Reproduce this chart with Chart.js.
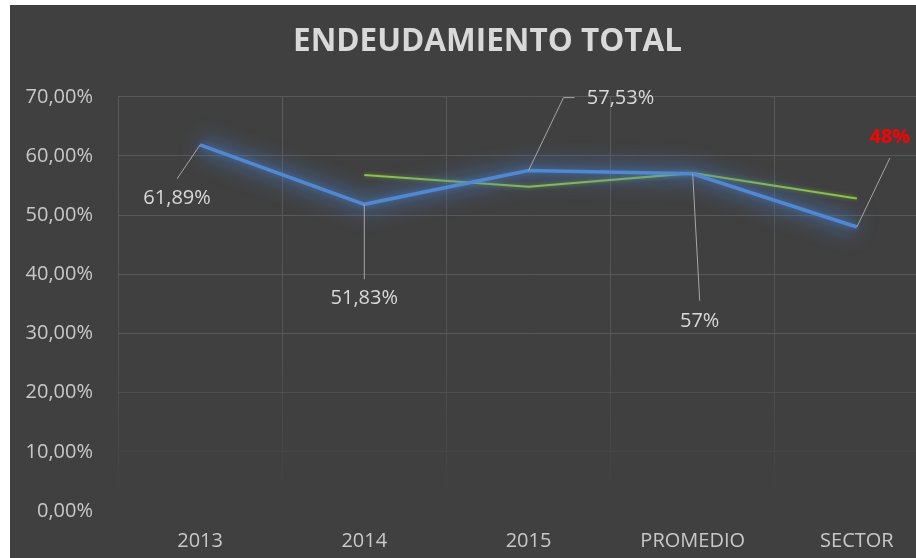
<!DOCTYPE html>
<html>
<head>
<meta charset="utf-8">
<script src="https://cdn.jsdelivr.net/npm/chart.js@4/dist/chart.umd.min.js"></script>
<style>
  html, body { margin: 0; padding: 0; background: #ffffff; overflow: hidden; }
  #wrap { position: absolute; left: 10px; top: 5px; width: 955px; height: 553px; background: #404040; }
</style>
</head>
<body>
<div id="wrap"><canvas id="chart"></canvas></div>
<script>
const categories = ['2013', '2014', '2015', 'PROMEDIO', 'SECTOR'];
const empresa = [61.89, 51.83, 57.53, 57, 48];
const referencia = [null, 56.8, 54.8, 57.1, 52.8];
const labelDecimals = [2, 2, 2, 0, 0];
const yTicks = [0, 10, 20, 30, 40, 50, 60, 70];

// where each data label sits, relative to its point (px)
const labelLayout = [
    {dx: -23, dy: 54, lx: -23, ly: 34},
    {dx: 0, dy: 94, lx: 0, ly: 75},
    {dx: 92, dy: -72, lx: 35, ly: -73, elbow: 46},
    {dx: 7, dy: 148, lx: 7, ly: 127},
    {dx: 33, dy: -90, lx: 33, ly: -69, color: '#ff0000', bold: true}
];

function pct(v, d){
    return v.toFixed(d).replace('.', ',') + '%';
}

const glowPlugin = {
    id: 'glow',
    beforeDatasetDraw(chart, args){
        const ctx = chart.ctx;
        if (args.index === 0) {
            // soft halo under the main line
            const pts = args.meta.data.filter(p => !p.skip);
            ctx.save();
            ctx.filter = 'blur(9px)';
            ctx.strokeStyle = 'rgba(70,120,190,0.4)';
            ctx.lineWidth = 22;
            ctx.lineJoin = 'round';
            ctx.beginPath();
            pts.forEach((p, i) => i ? ctx.lineTo(p.x, p.y) : ctx.moveTo(p.x, p.y));
            ctx.stroke();
            ctx.restore();
        }
        ctx.save();
        if (args.index === 0) {
            ctx.shadowColor = 'rgba(79,136,214,0.5)';
            ctx.shadowBlur = 6;
        } else {
            ctx.shadowColor = 'rgba(146,208,80,0.5)';
            ctx.shadowBlur = 4;
        }
    },
    afterDatasetDraw(chart){
        chart.ctx.restore();
    }
};

const labelPlugin = {
    id: 'leaderLabels',
    afterDatasetsDraw(chart){
        const ctx = chart.ctx;
        const pts = chart.getDatasetMeta(0).data;
        ctx.save();
        pts.forEach((p, i) => {
            const lay = labelLayout[i];
            ctx.strokeStyle = '#a6a6a6';
            ctx.lineWidth = 1;
            ctx.beginPath();
            ctx.moveTo(p.x, p.y);
            ctx.lineTo(p.x + lay.lx, p.y + lay.ly);
            if (lay.elbow) ctx.lineTo(p.x + lay.elbow, p.y + lay.ly);
            ctx.stroke();
            ctx.fillStyle = lay.color || '#d9d9d9';
            ctx.font = (lay.bold ? 'bold ' : '') + '20px "Open Sans"';
            ctx.textAlign = 'center';
            ctx.textBaseline = 'middle';
            ctx.fillText(pct(empresa[i], labelDecimals[i]), p.x + lay.dx, p.y + lay.dy);
        });
        ctx.restore();
    }
};

const chart = new Chart(document.getElementById('chart'), {
    type: 'line',
    data: {
        labels: categories,
        datasets: [{
            label: 'Endeudamiento',
            data: empresa,
            borderColor: '#4f88d6',
            borderWidth: 3.5,
            pointRadius: 0,
            tension: 0
        }, {
            label: 'Referencia',
            data: referencia,
            borderColor: '#8cc63f',
            borderWidth: 2,
            pointRadius: 0,
            tension: 0
        }]
    },
    options: {
        responsive: true,
        maintainAspectRatio: false,
        animation: false,
        layout: {padding: 0},
        plugins: {
            legend: {display: false},
            tooltip: {enabled: false},
            title: {
                display: true,
                text: 'ENDEUDAMIENTO TOTAL',
                color: '#d9d9d9',
                font: {family: '"Open Sans"', size: 31.5, weight: 'bold'},
                padding: {top: 18, bottom: 36}
            }
        },
        scales: {
            x: {
                offset: true,
                afterFit: s => { s.height = 47; },
                border: {display: false},
                grid: {
                    offset: true,
                    drawTicks: false,
                    color: ctx => {
                        const c = ctx.chart.ctx;
                        const area = ctx.chart.chartArea;
                        if (!area) return '#595959';
                        const g = c.createLinearGradient(0, area.top, 0, area.bottom);
                        g.addColorStop(0, '#5c5c5c');
                        g.addColorStop(0.6, '#535353');
                        g.addColorStop(0.97, '#404040');
                        return g;
                    }
                },
                ticks: {color: '#c8c8c8', font: {family: '"Open Sans"', size: 20}, padding: 18}
            },
            y: {
                min: 0,
                max: 70,
                afterFit: s => { s.width = 108; },
                afterBuildTicks: s => { s.ticks = yTicks.map(v => ({value: v})); },
                border: {display: false},
                grid: {
                    drawTicks: false,
                    color: ctx => {
                        const v = ctx.tick ? ctx.tick.value : 0;
                        if (v === 0) return 'rgba(0,0,0,0)';
                        if (v === 10) return '#474747';
                        if (v === 20) return '#4f4f4f';
                        return '#595959';
                    }
                },
                ticks: {
                    color: '#c8c8c8',
                    font: {family: '"Open Sans"', size: 20},
                    padding: 25,
                    callback: v => pct(v, 2)
                }
            },
            // empty strip on the right, keeps the title centred on the whole chart
            yRight: {
                position: 'right',
                display: true,
                afterFit: s => { s.width = 26; },
                grid: {display: false, drawTicks: false},
                border: {display: false},
                ticks: {display: false}
            }
        }
    },
    plugins: [glowPlugin, labelPlugin]
});
</script>
</body>
</html>
